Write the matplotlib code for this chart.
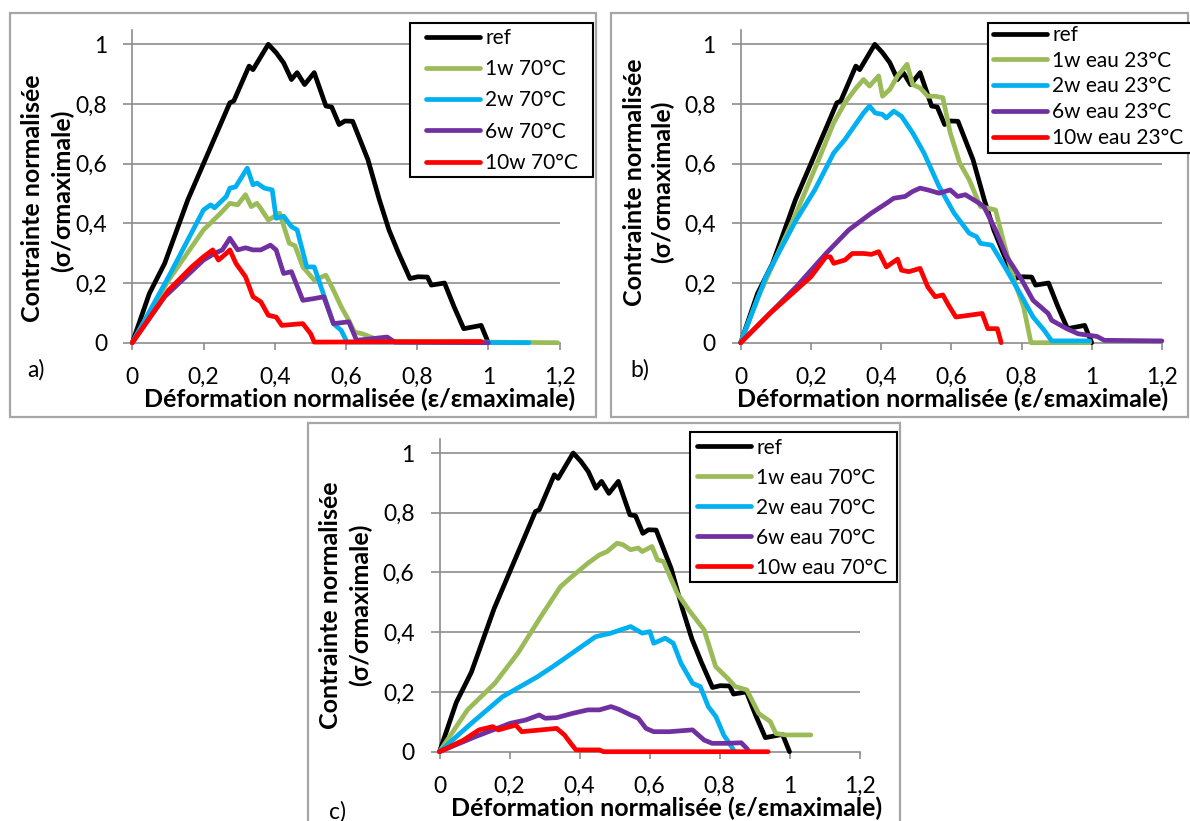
import matplotlib
matplotlib.use('Agg')
import matplotlib.pyplot as plt
from matplotlib.patches import Rectangle
from matplotlib.ticker import FixedLocator, FixedFormatter

plt.rcParams['font.family'] = ['Lato', 'DejaVu Sans']

W, H = 1190, 821

# ---------------- data ----------------
x_ticks = [0, 0.2, 0.4, 0.6, 0.8, 1.0, 1.2]
x_tick_labels = ['0', '0,2', '0,4', '0,6', '0,8', '1', '1,2']
y_ticks = [0, 0.2, 0.4, 0.6, 0.8, 1.0]
y_tick_labels = ['0', '0,2', '0,4', '0,6', '0,8', '1']

ylabel_line1 = 'Contrainte normalisée'
ylabel_line2 = '(σ/σmaximale)'
xlabel_text = 'Déformation normalisée (ε/εmaximale)'

colors = ['#000000', '#9BBB59', '#00B0F0', '#7030A0', '#FF0000']

ref_x = [0, 0.048, 0.091, 0.156, 0.2, 0.274, 0.285, 0.328, 0.339, 0.382, 0.404, 0.425,
         0.447, 0.463, 0.484, 0.511, 0.544, 0.56, 0.581, 0.597, 0.619, 0.662, 0.694,
         0.721, 0.748, 0.78, 0.802, 0.829, 0.84, 0.877, 0.904, 0.931, 0.98, 1.0]
ref_y = [0, 0.165, 0.266, 0.479, 0.6, 0.804, 0.81, 0.927, 0.915, 1.0, 0.972, 0.938,
         0.882, 0.905, 0.865, 0.905, 0.793, 0.79, 0.731, 0.743, 0.742, 0.613, 0.479,
         0.378, 0.3, 0.215, 0.221, 0.22, 0.193, 0.2, 0.12, 0.047, 0.058, 0.0]

# panel a) : 70°C
a_labels = ['ref', '1w 70°C', '2w 70°C', '6w 70°C', '10w 70°C']
a_1w_x = [0, 0.102, 0.2, 0.248, 0.274, 0.296, 0.318, 0.334, 0.35, 0.361, 0.382, 0.414,
          0.441, 0.457, 0.479, 0.511, 0.544, 0.565, 0.587, 0.608, 0.624, 0.646, 0.70, 1.195]
a_1w_y = [0, 0.21, 0.378, 0.434, 0.467, 0.462, 0.496, 0.456, 0.467, 0.45, 0.411, 0.434,
          0.333, 0.325, 0.254, 0.21, 0.226, 0.176, 0.12, 0.075, 0.036, 0.03, 0.005, 0.0]
a_2w_x = [0, 0.102, 0.2, 0.22, 0.231, 0.264, 0.274, 0.29, 0.323, 0.339, 0.35, 0.371,
          0.393, 0.404, 0.425, 0.447, 0.463, 0.49, 0.511, 0.527, 0.565, 0.587, 0.603, 1.114]
a_2w_y = [0, 0.221, 0.445, 0.462, 0.452, 0.49, 0.518, 0.522, 0.585, 0.529, 0.535, 0.518,
          0.512, 0.417, 0.424, 0.389, 0.378, 0.254, 0.254, 0.198, 0.064, 0.041, 0.002, 0.0]
a_6w_x = [0, 0.091, 0.2, 0.231, 0.253, 0.274, 0.296, 0.318, 0.339, 0.361, 0.388, 0.404,
          0.425, 0.447, 0.479, 0.511, 0.538, 0.565, 0.608, 0.63, 0.716, 0.737, 1.0]
a_6w_y = [0, 0.154, 0.277, 0.299, 0.311, 0.35, 0.311, 0.318, 0.311, 0.311, 0.327, 0.311,
          0.232, 0.238, 0.142, 0.148, 0.154, 0.064, 0.07, 0.008, 0.019, 0.002, 0.0]
a_10w_x = [0, 0.102, 0.167, 0.2, 0.226, 0.242, 0.264, 0.274, 0.291, 0.318, 0.339, 0.361,
           0.382, 0.404, 0.42, 0.479, 0.501, 0.511, 0.98]
a_10w_y = [0, 0.176, 0.254, 0.288, 0.311, 0.277, 0.299, 0.311, 0.266, 0.221, 0.154, 0.137,
           0.092, 0.086, 0.058, 0.064, 0.03, 0.002, 0.004]

# panel b) : eau 23°C
b_labels = ['ref', '1w eau 23°C', '2w eau 23°C', '6w eau 23°C', '10w eau 23°C']
b_1w_x = [0, 0.05, 0.158, 0.222, 0.265, 0.297, 0.329, 0.35, 0.367, 0.393, 0.404, 0.425,
          0.447, 0.474, 0.49, 0.511, 0.533, 0.554, 0.576, 0.597, 0.624, 0.651, 0.683,
          0.726, 0.75, 0.782, 0.806, 0.827, 0.994]
b_1w_y = [0, 0.154, 0.434, 0.613, 0.737, 0.804, 0.854, 0.882, 0.86, 0.894, 0.826, 0.849,
          0.894, 0.933, 0.865, 0.854, 0.826, 0.826, 0.821, 0.703, 0.602, 0.546, 0.456,
          0.445, 0.333, 0.198, 0.12, 0.0, 0.0]
b_2w_x = [0, 0.072, 0.158, 0.211, 0.265, 0.297, 0.35, 0.367, 0.383, 0.404, 0.415, 0.436,
          0.458, 0.49, 0.522, 0.565, 0.608, 0.651, 0.672, 0.683, 0.715, 0.758, 0.801,
          0.833, 0.865, 0.886, 0.994]
b_2w_y = [0, 0.221, 0.411, 0.512, 0.636, 0.681, 0.77, 0.793, 0.77, 0.765, 0.753, 0.776,
          0.759, 0.703, 0.636, 0.524, 0.434, 0.367, 0.355, 0.333, 0.327, 0.243, 0.154,
          0.086, 0.041, 0.006, 0.006]
b_6w_x = [0, 0.083, 0.158, 0.243, 0.308, 0.372, 0.415, 0.436, 0.468, 0.49, 0.511, 0.533,
          0.565, 0.597, 0.618, 0.64, 0.672, 0.693, 0.726, 0.758, 0.801, 0.833, 0.876,
          0.886, 0.929, 0.961, 1.015, 1.036, 1.2]
b_6w_y = [0, 0.098, 0.187, 0.299, 0.378, 0.434, 0.467, 0.484, 0.49, 0.507, 0.518, 0.512,
          0.501, 0.512, 0.49, 0.496, 0.473, 0.456, 0.378, 0.288, 0.21, 0.142, 0.098,
          0.075, 0.047, 0.03, 0.021, 0.008, 0.006]
b_10w_x = [0, 0.083, 0.147, 0.2, 0.243, 0.255, 0.265, 0.297, 0.318, 0.35, 0.372, 0.393,
           0.415, 0.447, 0.458, 0.479, 0.511, 0.533, 0.554, 0.576, 0.592, 0.613, 0.651,
           0.688, 0.704, 0.731, 0.742]
b_10w_y = [0, 0.098, 0.165, 0.221, 0.288, 0.288, 0.266, 0.277, 0.299, 0.299, 0.296, 0.305,
           0.254, 0.28, 0.243, 0.238, 0.249, 0.187, 0.154, 0.16, 0.126, 0.086, 0.092,
           0.098, 0.047, 0.047, 0.0]

# panel c) : eau 70°C
c_labels = ['ref', '1w eau 70°C', '2w eau 70°C', '6w eau 70°C', '10w eau 70°C']
c_1w_x = [0, 0.08, 0.158, 0.224, 0.29, 0.346, 0.379, 0.424, 0.457, 0.479, 0.507, 0.524,
          0.546, 0.568, 0.579, 0.607, 0.623, 0.64, 0.679, 0.712, 0.756, 0.789, 0.823,
          0.845, 0.878, 0.912, 0.945, 0.961, 0.989, 1.061]
c_1w_y = [0, 0.14, 0.229, 0.33, 0.453, 0.553, 0.587, 0.631, 0.659, 0.67, 0.698, 0.693,
          0.676, 0.682, 0.67, 0.687, 0.642, 0.637, 0.531, 0.475, 0.408, 0.285, 0.246,
          0.218, 0.207, 0.128, 0.101, 0.061, 0.056, 0.056]
c_2w_x = [0, 0.091, 0.18, 0.28, 0.324, 0.379, 0.446, 0.468, 0.49, 0.518, 0.546, 0.579,
          0.601, 0.612, 0.645, 0.668, 0.69, 0.723, 0.745, 0.768, 0.79, 0.812, 0.828, 0.84]
c_2w_y = [0, 0.095, 0.184, 0.251, 0.285, 0.33, 0.385, 0.391, 0.397, 0.408, 0.419, 0.397,
          0.402, 0.363, 0.38, 0.363, 0.296, 0.229, 0.218, 0.151, 0.117, 0.056, 0.028, 0.006]
c_6w_x = [0, 0.102, 0.202, 0.246, 0.285, 0.302, 0.335, 0.379, 0.424, 0.457, 0.49, 0.512,
          0.546, 0.568, 0.59, 0.612, 0.657, 0.723, 0.756, 0.779, 0.823, 0.862, 0.878, 0.884]
c_6w_y = [0, 0.05, 0.095, 0.106, 0.123, 0.112, 0.114, 0.128, 0.14, 0.14, 0.151, 0.142,
          0.123, 0.112, 0.078, 0.067, 0.067, 0.073, 0.039, 0.028, 0.028, 0.03, 0.011, 0.0]
c_10w_x = [0, 0.069, 0.113, 0.152, 0.168, 0.202, 0.218, 0.235, 0.29, 0.335, 0.357, 0.379,
           0.39, 0.457, 0.468, 0.939]
c_10w_y = [0, 0.039, 0.073, 0.084, 0.073, 0.084, 0.089, 0.067, 0.073, 0.078, 0.056, 0.022,
           0.006, 0.006, 0.0, 0.0]

# ---------------- layout helpers ----------------
fig = plt.figure(figsize=(W / 100, H / 100), dpi=100)


def fx(px):
    return px / W


def fy(py):
    return 1 - py / H


GRID = '#8c8c8c'
FRAME = '#a6a6a6'
TICK_FS = 16.5
LEG_FS = 15
LAB_FS = 18
LW = 3.4


def rect_px(l, t, r, b, color, lw, z=0):
    fig.patches.append(Rectangle((fx(l), fy(b)), fx(r - l), (b - t) / H,
                                 transform=fig.transFigure, fill=False,
                                 edgecolor=color, linewidth=lw, zorder=z))


def make_panel(x0, y0, ux, uy, frame, series_x, series_y, labels, leg_box, leg_anchor,
               leg_spacing, letter, letter_xy, yl1_xy, yl2_xy, xl_xy):
    rect_px(*frame, FRAME, 1.6, 0)
    ytop = 1.048
    ax = fig.add_axes([fx(x0), fy(y0), fx(1.2 * ux), ytop * uy / H])
    ax.set_xlim(0, 1.2)
    ax.set_ylim(0, ytop)
    ax.patch.set_alpha(0)
    for s in ['top', 'right']:
        ax.spines[s].set_visible(False)
    for s in ['left', 'bottom']:
        ax.spines[s].set_color(GRID)
        ax.spines[s].set_linewidth(1.2)
    ax.xaxis.set_major_locator(FixedLocator(x_ticks))
    ax.xaxis.set_major_formatter(FixedFormatter(x_tick_labels))
    ax.yaxis.set_major_locator(FixedLocator(y_ticks))
    ax.yaxis.set_major_formatter(FixedFormatter(y_tick_labels))
    ax.tick_params(axis='x', direction='out', length=5, width=1.2, color=GRID,
                   labelsize=TICK_FS, pad=12.5)
    ax.tick_params(axis='y', direction='out', length=6.5, width=1.2, color=GRID,
                   labelsize=TICK_FS, pad=11.5)
    for yv in y_ticks[1:]:
        ax.axhline(yv, xmin=0, xmax=1.0, color=GRID, linewidth=1.2, zorder=1)
    handles = []
    for xs, ys, c, lab in zip(series_x, series_y, colors, labels):
        ln, = ax.plot(xs, ys, color=c, linewidth=LW, solid_joinstyle='round',
                      solid_capstyle='round', zorder=3, label=lab, clip_on=False)
        handles.append(ln)
    # legend frame drawn by hand, legend content without frame
    lb = Rectangle((fx(leg_box[0]), fy(leg_box[3])), fx(leg_box[2] - leg_box[0]),
                   (leg_box[3] - leg_box[1]) / H, transform=fig.transFigure,
                   facecolor='white', edgecolor='black', linewidth=1.5, zorder=5)
    fig.add_artist(lb)
    leg = fig.legend(handles=handles, labels=labels, loc='upper left',
                     bbox_to_anchor=(fx(leg_anchor[0]), fy(leg_anchor[1])),
                     bbox_transform=fig.transFigure, fontsize=LEG_FS, frameon=False,
                     handlelength=2.6, handletextpad=0.25, borderpad=0,
                     labelspacing=leg_spacing, borderaxespad=0)
    leg.set_zorder(6)
    for l in leg.get_lines():
        l.set_linewidth(LW)
        l.set_solid_capstyle('round')
    fig.text(fx(letter_xy[0]), fy(letter_xy[1]), letter, fontsize=TICK_FS,
             ha='center', va='center')
    fig.text(fx(yl1_xy[0]), fy(yl1_xy[1]), ylabel_line1, fontsize=LAB_FS, fontweight='bold',
             rotation=90, ha='center', va='center')
    fig.text(fx(yl2_xy[0]), fy(yl2_xy[1]), ylabel_line2, fontsize=LAB_FS, fontweight='bold',
             rotation=90, ha='center', va='center')
    fig.text(fx(xl_xy[0]), fy(xl_xy[1]), xlabel_text, fontsize=LAB_FS, fontweight='bold',
             ha='center', va='center')
    return ax


make_panel(132.3, 342.7, 356, 298.4, (10, 13, 596, 417),
           [ref_x, a_1w_x, a_2w_x, a_6w_x, a_10w_x],
           [ref_y, a_1w_y, a_2w_y, a_6w_y, a_10w_y],
           a_labels, (410, 23, 593, 177), (426, 28), 0.54,
           'a)', (36, 370), (33, 198), (62, 191), (360, 399))

make_panel(740.7, 342.7, 351, 298.4, (611, 13, 1188, 417),
           [ref_x, b_1w_x, b_2w_x, b_6w_x, b_10w_x],
           [ref_y, b_1w_y, b_2w_y, b_6w_y, b_10w_y],
           b_labels, (988, 23, 1196, 153), (993, 25), 0.275,
           'b)', (640, 370), (634, 182), (662, 182), (953, 399))

make_panel(439.5, 751.7, 350, 298.7, (308, 423, 900, 830),
           [ref_x, c_1w_x, c_2w_x, c_6w_x, c_10w_x],
           [ref_y, c_1w_y, c_2w_y, c_6w_y, c_10w_y],
           c_labels, (690, 432, 897, 582), (697, 437.5), 0.48,
           'c)', (338, 812), (331, 605), (360, 605), (667, 808))

fig.savefig('out.png', dpi=100)
